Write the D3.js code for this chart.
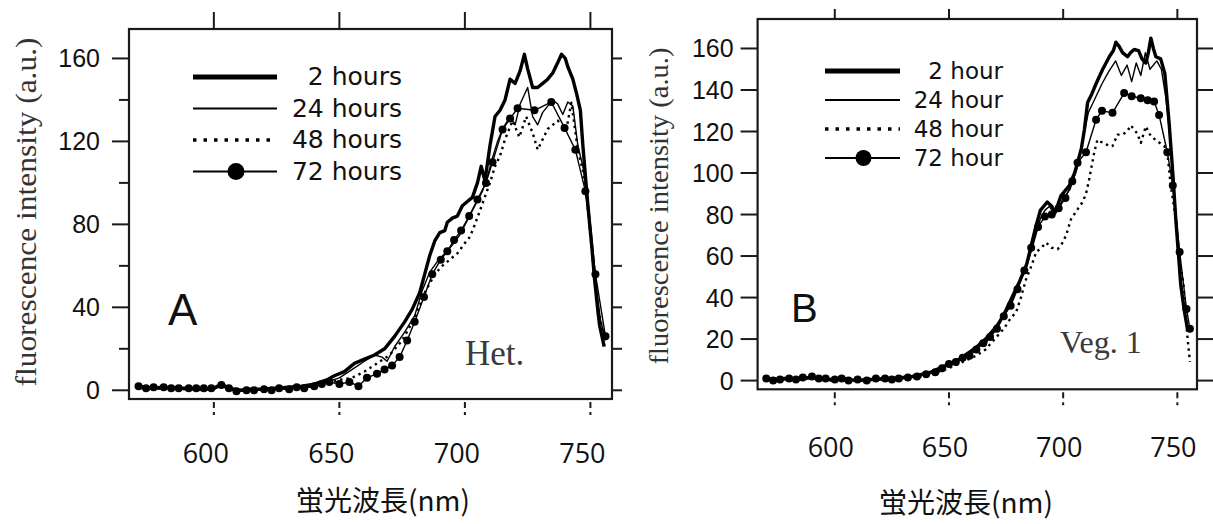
<!DOCTYPE html>
<html>
<head>
<meta charset="utf-8">
<script src="https://cdn.jsdelivr.net/npm/d3@7"></script>
<style>
  body { margin: 0; background: #fff; }
</style>
</head>
<body>
<svg id="chart" width="1213" height="524"></svg>
<script>
// ---- data ----
const seriesKeys = ["2h", "24h", "48h", "72h"];
const legendA = ["2 hours", "24 hours", "48 hours", "72 hours"];
const legendB = ["2 hour", "24 hour", "48 hour", "72 hour"];
const xTicks = [600, 650, 700, 750];
const yMajorA = [0, 40, 80, 120, 160];
const yMinor = [0, 20, 40, 60, 80, 100, 120, 140, 160];
const yMajorB = [0, 20, 40, 60, 80, 100, 120, 140, 160];

// panel A (Het.) - [wavelength nm, intensity]
const a2h = [[570,2],[575,1],[580,1.5],[585,1],[590,1],[595,0.5],[600,1],[603,3],[606,1],[610,0],[615,0.5],[620,0.5],[625,1],[630,1.5],[635,2],[640,3],[645,5],[648,7],[652,9],[656,13],[660,15],[664,17],[668,20],[672,26],[676,33],[679,39],[682,47],[684,56],[686,65],[688,72],[690,76],[692,77],[693,81],[695,83],[697,84],[699,89],[701,91],[703,93],[705,100],[706.5,108],[708,101],[710,118],[712,132],[714,135],[716,140],[718,150],[720,148],[722,154],[723.7,162],[725,155],[727,146],[729,146],[731,148],[733,150],[735,153],[737,158],[738.5,162],[740,160],[741,156],[743,150],[744.5,143],[746,135],[747,118],[749,89],[750.5,70],[751.7,53],[753,38],[753.7,31],[755.5,21]];
const a24h = [[570,1],[575,0.5],[580,1],[585,0.5],[590,0.5],[595,0],[600,0.5],[603,2],[606,0.5],[610,-0.5],[615,0],[620,0],[625,0.5],[630,1],[635,1.5],[640,2.5],[645,4],[650,6],[655,10],[660,14],[664,17],[667,16],[669,14],[672,21],[676,28],[680,36],[683,48],[686,57],[689,62],[692,66],[695,70],[698,75],[701,82],[704,89],[707,96],[709,103],[711,112],[713,120],[715,126],[718,132],[720,128],[722,138],[725,146],[727,132],[729,128],[731,134],[733,137],[735,140],[737,138],[739,133],[741,139],[743,137],[745,118],[747,108],[749,92],[751,68],[752.5,48],[754,34],[756,24]];
const a48h = [[570,1.5],[575,0.5],[580,1],[585,0.5],[590,0.5],[595,0],[600,1],[603,2.5],[606,0.5],[610,0],[615,0],[620,0.5],[625,0.5],[630,1],[635,1.5],[640,2],[645,3],[650,5],[655,6],[660,9],[665,13],[670,17],[675,24],[680,35],[684,47],[688,56],[691,60],[694,63],[697,66],[700,71],[702,74],[704,80],[707,90],[710,100],[712,108],[714,113],[716,121],[719,130],[721.7,122],[724.4,132],[727,124],[729,116],[731,121],[733,126],[735,128],[737,130],[740.4,125.6],[742.4,138.7],[745,116],[747,106],[749,88],[751,62],[753,40],[755,28],[756,24]];
const a72h = [[570,2],[573,1],[576,1.5],[580,1.5],[583,1],[586,1],[590,1],[593,1],[596,1],[599,1],[603,2.5],[606,1],[609,-0.5],[613,0],[616,0],[620,0.5],[623,0],[626,1],[630,0.5],[633,1.5],[636,1],[640,2],[643,3],[646,4],[650,3],[654,4],[657.6,2],[661,6],[665,8],[668,10],[671,12],[674,16],[677,24],[680,33],[683.7,45],[687,56],[690.4,63],[693,67],[695.7,72.5],[698.5,77],[701.7,84],[705,92],[708.4,100],[711,110],[715,125.7],[718,131],[721,136],[727.7,135],[734.4,139],[739.7,126.5],[744,116],[748,96],[752,56],[756,26]];

// panel B (Veg. 1)
const b2h = [[570,1],[574,0.5],[578,1],[582,0.5],[586,1],[590,1.5],[594,1],[598,0.5],[602,1],[606,0.5],[610,0],[614,0.5],[618,0.5],[622,1],[626,1],[630,1.5],[634,2],[638,3],[642,4],[646,6],[650,8],[654,10],[658,13],[662,16],[666,20],[670,25],[672,28],[675,34],[678,41],[681,48],[684,56],[686,65],[688,74],[690,82],[691.5,84],[693,86],[695,84],[696.5,81],[699,89],[702.7,94],[705,100],[706.3,105],[708,112],[709.3,121],[710.7,134],[712.5,138],[714.4,143],[717.3,150],[720.2,156],[722,159],[723.1,163],[724.5,161],[726,158],[728.2,156],[729.5,158],[731.1,159.5],[733,159],[734.5,155],[736.2,153],[737.3,158],[738.4,165],[739.5,160],[740.6,156],[742.7,155],[744.5,148],[746.4,124],[748,100],[749.3,78],[751.5,46],[753,34],[754.4,25]];
const b24h = [[570,0.5],[574,0],[578,0.5],[582,0.5],[586,1],[590,1],[594,0.5],[598,0.5],[602,0.5],[606,0],[610,0],[614,0],[618,0.5],[622,0.5],[626,1],[630,1],[634,1.5],[638,2.5],[642,4],[646,5.5],[650,7.5],[654,10],[658,13],[662,16],[664,19],[666,17],[668,22],[670,25],[674,32],[678,40],[681,47],[684,55],[687,66],[690,78],[692,82],[694,84],[696,80],[698,83],[700,88],[703,92],[706,102],[709,118],[711,129],[714,136],[717,143],[720,149],[723,154],[725.5,147],[728,152],[730,144],[732,153],[734,147],[736,158],[738,150],[741,154],[743,150],[745,136],[746.5,120],[748,100],[749.5,78],[751.5,48],[753,35],[754.8,24]];
const b48h = [[570,0.5],[574,0],[578,0.5],[582,0.5],[586,1],[590,1],[594,0.5],[598,0],[602,0.5],[606,0],[610,0],[614,0],[618,0.5],[622,0.5],[626,0.5],[630,1],[634,1.5],[638,2],[642,3],[646,4.5],[650,6],[654,8],[658,10],[662,12],[666,15],[670,20],[674,25],[677,30],[679.4,33],[681.5,40],[683.8,49],[686,55],[688.2,62],[690.5,64],[692.5,66.5],[695,64],[697.6,63.3],[699.5,66],[701.3,70],[703.4,77.7],[706.3,82.5],[708.5,86],[710,90],[711.4,97],[713.6,110],[715,116],[716.5,115],[718,114.5],[720,113],[721.6,113],[723.8,118.5],[726,118.5],[728,120],[729.6,123],[731,121],[732.5,119],[734,114.5],[736.2,122.5],[738.4,117.7],[741.3,115.3],[744.2,113],[745.6,110],[747.1,94],[749.3,78],[750.5,62],[752.7,46],[753.5,33],[754.5,20],[755.5,9]];
const b72h = [[570,1],[573,0],[576,0.5],[580,1],[583,0.5],[586,1.5],[590,2],[593,1],[596,1],[600,0.5],[603,1],[606,0],[610,0.5],[614,0],[618,1],[622,1],[625,0.5],[628,1],[632,1.5],[636,2],[640,3],[644,4],[647,6],[650,8],[653,9],[656,11],[659,12],[662,15],[665,18],[668,21],[671,25],[674,31],[677,36],[680,44],[683,53],[686,64],[689,74],[692,79],[695,80],[698,83],[701,88],[704,96],[706.3,105],[710,110],[714.4,125.7],[717,130],[721.6,129],[726.7,138.5],[730,137],[734,136],[737,135],[739.8,134.5],[742,128],[745.6,110],[748,94],[751,62],[754,34.5],[755.5,25]];

// ---- drawing ----
const svg = d3.select("#chart");
const xDomain = [566.2, 758.6];
const yDomain = [-4.2, 174.2];

const lineStyles = {
    "2h":  { width: 3.4, dash: null },
    "24h": { width: 1.4, dash: null },
    "48h": { width: 2.4, dash: "2.4,4" },
    "72h": { width: 1.4, dash: null }
};

function drawPanel(p) {
    const x = d3.scaleLinear().domain(xDomain).range([p.left, p.right]);
    const y = d3.scaleLinear().domain(yDomain).range([p.bottom, p.top]);
    const g = svg.append("g");

    // frame
    g.append("rect")
        .attr("x", p.left).attr("y", p.top)
        .attr("width", p.right - p.left).attr("height", p.bottom - p.top)
        .attr("fill", "none").attr("stroke", "#1a1a1a").attr("stroke-width", 2.2);

    // top ticks
    g.selectAll(".ttick").data(xTicks).join("line")
        .attr("x1", d => x(d)).attr("x2", d => x(d))
        .attr("y1", p.top).attr("y2", p.top - p.topTick)
        .attr("stroke", "#1a1a1a").attr("stroke-width", 2);
    // bottom ticks (dashed look)
    g.selectAll(".btick").data(xTicks).join("line")
        .attr("x1", d => x(d)).attr("x2", d => x(d))
        .attr("y1", p.bottom + 3).attr("y2", p.bottom + 17)
        .attr("stroke", "#1a1a1a").attr("stroke-width", 2)
        .attr("stroke-dasharray", "6,4,3,10");
    // bottom tick labels
    g.selectAll(".xlab").data(xTicks).join("text")
        .attr("x", d => x(d) + p.xLabDx).attr("y", p.xLabY)
        .attr("text-anchor", "middle")
        .attr("font-family", "'Open Sans', sans-serif").attr("font-size", 27)
        .attr("fill", "#111")
        .text(d => d);

    // left ticks
    g.selectAll(".ltick").data(yMinor).join("line")
        .attr("x1", p.left).attr("y1", d => y(d)).attr("y2", d => y(d))
        .attr("x2", d => p.left - (p.yMajor.includes(d) ? 17 : 10))
        .attr("stroke", "#1a1a1a").attr("stroke-width", 2);
    // right ticks
    g.selectAll(".rtick").data(yMinor).join("line")
        .attr("x1", p.right).attr("x2", p.right + p.rightTick)
        .attr("y1", d => y(d)).attr("y2", d => y(d))
        .attr("stroke", "#1a1a1a").attr("stroke-width", 2);
    g.selectAll(".ylab").data(p.yMajor).join("text")
        .attr("x", p.left - 17 - p.yLabGap).attr("y", d => y(d))
        .attr("dy", "0.36em").attr("text-anchor", "end")
        .attr("font-family", "'Liberation Sans', Arial, sans-serif").attr("font-size", 25)
        .attr("fill", "#111")
        .text(d => d);

    // axis titles
    g.append("text")
        .attr("x", p.xTitleX).attr("y", p.xTitleY)
        .attr("text-anchor", "middle")
        .attr("font-family", "'Noto Sans CJK JP', sans-serif").attr("font-size", 28)
        .attr("fill", "#111")
        .text("蛍光波長(nm)");
    g.append("text")
        .attr("transform", `translate(${p.yTitleX},${p.yTitleY}) rotate(-90)`)
        .attr("text-anchor", "middle")
        .attr("font-family", "'Liberation Serif', 'Times New Roman', serif")
        .attr("font-size", p.yTitleSize)
        .attr("textLength", p.yTitleLen).attr("lengthAdjust", "spacingAndGlyphs")
        .attr("fill", "#333")
        .text("fluorescence intensity (a.u.)");

    // curves
    const line = d3.line().x(d => x(d[0])).y(d => y(d[1]));
    seriesKeys.forEach(k => {
        const st = lineStyles[k];
        g.append("path")
            .attr("d", line(p.data[k]))
            .attr("fill", "none")
            .attr("stroke", "#000")
            .attr("stroke-width", st.width)
            .attr("stroke-linejoin", "round")
            .attr("stroke-dasharray", st.dash);
    });
    g.selectAll(".mark").data(p.data["72h"]).join("circle")
        .attr("cx", d => x(d[0])).attr("cy", d => y(d[1]))
        .attr("r", 4).attr("fill", "#000");

    // legend
    const lg = g.append("g");
    p.legend.forEach((label, i) => {
        const k = seriesKeys[i];
        const ly = p.legTop + i * p.legStep;
        const w = [5, 2, 3.5, 2][i];
        lg.append("line")
            .attr("x1", p.legX1).attr("x2", p.legX2)
            .attr("y1", ly).attr("y2", ly)
            .attr("stroke", "#000").attr("stroke-width", w)
            .attr("stroke-dasharray", k === "48h" ? "3.5,7" : null);
        if (k === "72h") {
            lg.append("circle")
                .attr("cx", (p.legX1 + p.legX2) / 2 + 1).attr("cy", ly)
                .attr("r", p.legR).attr("fill", "#000");
        }
        lg.append("text")
            .attr("x", p.legTextX).attr("y", ly + 8)
            .attr("text-anchor", "end")
            .attr("font-family", "'DejaVu Sans', sans-serif").attr("font-size", p.legSize)
            .attr("fill", "#111")
            .text(label);
    });

    // panel letter and sample tag
    g.append("text")
        .attr("x", p.letterX).attr("y", p.letterY)
        .attr("font-family", "'Liberation Sans', Arial, sans-serif").attr("font-size", p.letterSize)
        .attr("fill", "#111")
        .text(p.letter);
    g.append("text")
        .attr("x", p.tagX).attr("y", p.tagY)
        .attr("font-family", "'Liberation Serif', 'Times New Roman', serif").attr("font-size", p.tagSize)
        .attr("fill", "#3a3a3a")
        .text(p.tag);
}

drawPanel({
    left: 129, right: 612, top: 29, bottom: 399,
    topTick: 17, rightTick: 10, yMajor: yMajorA, yLabGap: 12,
    xLabDx: -8, xLabY: 463,
    xTitleX: 383, xTitleY: 511,
    yTitleX: 36, yTitleY: 212, yTitleSize: 30, yTitleLen: 349,
    data: { "2h": a2h, "24h": a24h, "48h": a48h, "72h": a72h },
    legend: legendA, legTop: 77, legStep: 31.5, legX1: 193, legX2: 277, legR: 8.5,
    legTextX: 402, legSize: 25,
    letter: "A", letterX: 168, letterY: 325, letterSize: 44,
    tag: "Het.", tagX: 465, tagY: 365, tagSize: 35
});

drawPanel({
    left: 757.6, right: 1197, top: 19, bottom: 389.3,
    topTick: 10, rightTick: 16, yMajor: yMajorB, yLabGap: 7,
    xLabDx: -4, xLabY: 457,
    xTitleX: 966, xTitleY: 513,
    yTitleX: 668, yTitleY: 206, yTitleSize: 28, yTitleLen: 317,
    data: { "2h": b2h, "24h": b24h, "48h": b48h, "72h": b72h },
    legend: legendB, legTop: 71, legStep: 29, legX1: 825, legX2: 900, legR: 8,
    legTextX: 1003, legSize: 23,
    letter: "B", letterX: 791, letterY: 322, letterSize: 40,
    tag: "Veg. 1", tagX: 1060, tagY: 353, tagSize: 32
});
</script>
</body>
</html>
